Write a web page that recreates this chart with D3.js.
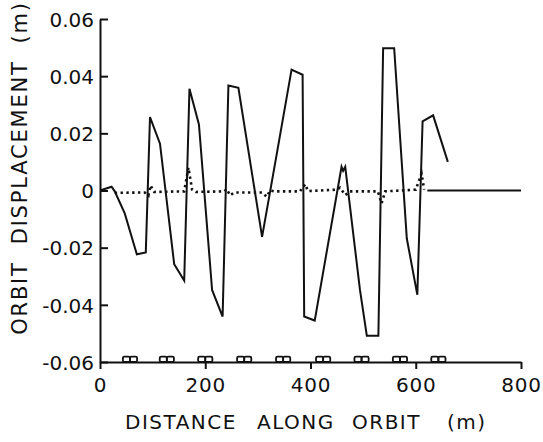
<!DOCTYPE html>
<html>
<head>
<meta charset="utf-8">
<script src="https://cdn.jsdelivr.net/npm/d3@7"></script>
<style>
  html, body { margin: 0; padding: 0; background: #fff; }
  svg { display: block; }
  text { font-family: "DejaVu Sans", sans-serif; fill: #111; }
</style>
</head>
<body>
<svg id="chart" width="543" height="442"></svg>
<script>
// ---- data ----
const solidS = [0, 22, 28, 47, 70, 87, 95, 114, 141, 160, 170, 188, 213, 233, 244, 263, 308, 336, 364, 385, 388, 408, 459, 462, 466, 494, 507, 529, 538, 559, 583, 603, 613, 633, 661];
const solidD = [0, 0.0013, -0.0003, -0.008, -0.0223, -0.0217, 0.0257, 0.0164, -0.0258, -0.0315, 0.0356, 0.0231, -0.0348, -0.0441, 0.0367, 0.0359, -0.0162, 0.0129, 0.0423, 0.0405, -0.0441, -0.0455, 0.0083, 0.0069, 0.0083, -0.0348, -0.0508, -0.0508, 0.0498, 0.0498, -0.0168, -0.0365, 0.0242, 0.0263, 0.0100];

const dotS = [28, 85, 92, 96, 103, 160, 168, 175, 182, 236, 241, 247, 255, 308, 317, 323, 331, 380, 390, 395, 450, 456, 466, 475, 528, 535, 542, 600, 611, 616];
const dotD = [-0.0008, -0.0007, -0.0018, 0.0018, -0.0005, -0.0003, 0.0080, 0.0003, -0.0005, -0.0003, 0.0005, -0.0017, -0.0007, -0.0007, -0.0022, 0.0, -0.0003, -0.0003, 0.0022, -0.0002, 0.0003, 0.0010, -0.0016, -0.0003, -0.0003, -0.0045, -0.0003, 0.0003, 0.0059, 0.0003];

const flatS = [622, 800];
const flatD = [0, 0];

const magnetS = [57, 127, 200, 274, 348, 424, 497, 570, 643];

const xTicks = [0, 200, 400, 600, 800];
const yTicks = [-0.06, -0.04, -0.02, 0, 0.02, 0.04, 0.06];
const yTickLabels = ["-0.06", "-0.04", "-0.02", "0", "0.02", "0.04", "0.06"];

const xTitleWords = ["DISTANCE", "ALONG", "ORBIT", "(m)"];
const yTitle = "ORBIT  DISPLACEMENT  (m)";

// ---- drawing ----
const svg = d3.select("#chart");
const x = d3.scaleLinear().domain([0, 800]).range([100, 521]);
const y = d3.scaleLinear().domain([-0.06, 0.06]).range([362, 19]);

const line = d3.line().x(d => x(d[0])).y(d => y(d[1]));

// y axis (ticks inward)
const yAxis = svg.append("g").attr("transform", `translate(${x(0)},0)`)
  .call(d3.axisLeft(y).tickValues(yTicks).tickSizeInner(-8).tickSizeOuter(0).tickPadding(6)
    .tickFormat((d, i) => yTickLabels[i]));
yAxis.selectAll("path, line").attr("stroke", "#111").attr("stroke-width", 2);
yAxis.selectAll("text").attr("font-size", 20).attr("dy", "0.36em")
  .style("font-family", "DejaVu Sans, sans-serif").attr("fill", "#111");

// x axis (ticks outward)
const xAxis = svg.append("g").attr("transform", `translate(0,${y(-0.06)})`)
  .call(d3.axisBottom(x).tickValues(xTicks).tickSizeInner(7).tickSizeOuter(0).tickPadding(8)
    .tickFormat(d3.format("d")));
xAxis.selectAll("path, line").attr("stroke", "#111").attr("stroke-width", 2);
xAxis.selectAll("text").attr("font-size", 20).attr("y", 30).attr("dy", 0)
  .attr("letter-spacing", 0.8)
  .style("font-family", "DejaVu Sans, sans-serif").attr("fill", "#111");

// magnet symbols on the x axis
const mg = svg.append("g");
magnetS.forEach(s => {
  [-1, 1].forEach(side => {
    const x0 = side < 0 ? s - 13.5 : s;
    mg.append("rect")
      .attr("x", x(x0)).attr("y", y(-0.06 + 0.0019))
      .attr("width", x(x0 + 13.5) - x(x0)).attr("height", y(-0.06) - y(-0.06 + 0.0019))
      .attr("rx", 1.5)
      .attr("fill", "none").attr("stroke", "#111").attr("stroke-width", 1.8);
  });
});

// solid orbit
svg.append("path").datum(solidS.map((s, i) => [s, solidD[i]]))
  .attr("d", line).attr("fill", "none").attr("stroke", "#111")
  .attr("stroke-width", 2).attr("stroke-linejoin", "miter");

// flat tail
svg.append("path").datum(flatS.map((s, i) => [s, flatD[i]]))
  .attr("d", line).attr("fill", "none").attr("stroke", "#111").attr("stroke-width", 1.8);

// dotted orbit
svg.append("path").datum(dotS.map((s, i) => [s, dotD[i]]))
  .attr("d", line).attr("fill", "none").attr("stroke", "#111")
  .attr("stroke-width", 2.6).attr("stroke-dasharray", "2.4,3.4");

// x title
const xt = svg.append("text").attr("y", 429).attr("font-size", 20).attr("letter-spacing", 1.5);
const xWordPos = [125, 257, 352, 447];
xTitleWords.forEach((w, i) => xt.append("tspan").attr("x", xWordPos[i]).text(w));

// y title
svg.append("text")
  .attr("transform", "translate(27,168) rotate(-90)")
  .attr("text-anchor", "middle")
  .attr("font-size", 21).attr("letter-spacing", 1.8)
  .style("white-space", "pre")
  .text(yTitle);
</script>
</body>
</html>
